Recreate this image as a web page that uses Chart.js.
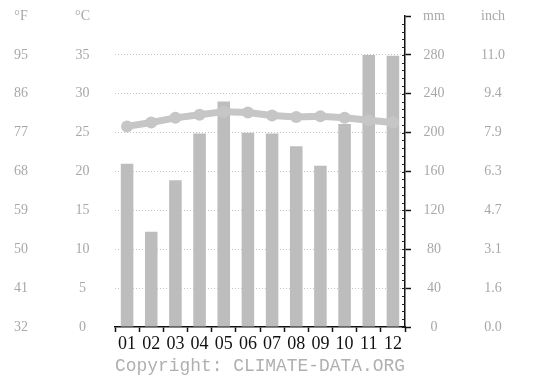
<!DOCTYPE html>
<html>
<head>
<meta charset="utf-8">
<script src="https://cdn.jsdelivr.net/npm/chart.js@4"></script>
<style>
  html, body { margin: 0; padding: 0; background: #fff; }
  #wrap { width: 533px; height: 386px; }
</style>
</head>
<body>
<div id="wrap"><canvas id="climateChart" width="533" height="386"></canvas></div>
<script>
const months = ['01', '02', '03', '04', '05', '06', '07', '08', '09', '10', '11', '12'];
const precipMm = [168, 98, 151, 199, 232, 200, 199, 186, 166, 209, 280, 279];
const tempC = [25.8, 26.3, 26.9, 27.3, 27.7, 27.6, 27.2, 27.0, 27.1, 26.9, 26.6, 26.3];

// tick labels, bottom to top (last one is the unit header)
const celsiusTicks = ['0', '5', '10', '15', '20', '25', '30', '35', '°C'];
const fahrenheitTicks = ['32', '41', '50', '59', '68', '77', '86', '95', '°F'];
const mmTicks = ['0', '40', '80', '120', '160', '200', '240', '280', 'mm'];
const inchTicks = ['0.0', '1.6', '3.1', '4.7', '6.3', '7.9', '9.4', '11.0', 'inch'];

const labelFont = { family: 'Liberation Serif', size: 14 };
const labelColor = '#a8a8a8';

function sideAxis(position, labels, max, step, width, padding, weight) {
    return {
        type: 'linear',
        position: position,
        weight: weight,
        min: 0,
        max: max,
        grid: { display: false },
        border: { display: false },
        ticks: {
            stepSize: step,
            crossAlign: 'center',
            padding: padding,
            color: labelColor,
            font: labelFont,
            callback: v => labels[Math.round(v / step)]
        },
        afterFit: scale => {
            scale.width = width;
            // label padding shouldn't push the plot area down
            scale.paddingTop = 0;
            scale.paddingBottom = 0;
        }
    };
}

// small inside ticks on the precipitation axis
const minorTicks = {
    id: 'minorTicks',
    afterDraw(chart) {
        const s = chart.scales.mm;
        const ctx = chart.ctx;
        ctx.save();
        ctx.strokeStyle = '#222';
        ctx.lineWidth = 1;
        for (let v = 0; v <= 312; v += 8) {
            const y = Math.round(s.getPixelForValue(v)) + 0.5;
            ctx.beginPath();
            ctx.moveTo(s.left - 3, y);
            ctx.lineTo(s.left, y);
            ctx.stroke();
        }
        ctx.restore();
    }
};

const cAxis = sideAxis('left', celsiusTicks, 40, 5, 65, 25, 0);
cAxis.grid = {
    display: true,
    drawTicks: false,
    color: ctx => (ctx.tick && (ctx.tick.value === 0 || ctx.tick.value === 40)) ? 'rgba(0,0,0,0)' : '#c4c4c4',
    lineWidth: 1
};
cAxis.border = { display: false, dash: [1, 2] };

const mmAxis = sideAxis('right', mmTicks, 320, 40, 55, 12, 0);
mmAxis.grid = {
    display: true,
    drawOnChartArea: false,
    drawTicks: true,
    tickLength: 6,
    tickColor: '#111',
    tickWidth: 1.5
};
mmAxis.border = { display: true, color: '#111', width: 1.5 };

new Chart(document.getElementById('climateChart').getContext('2d'), {
    data: {
        labels: months,
        datasets: [
            {
                type: 'line',
                label: 'Temperature',
                data: tempC,
                yAxisID: 'c',
                borderColor: '#c6c6c6',
                backgroundColor: '#c6c6c6',
                borderWidth: 7,
                pointRadius: 6,
                pointBorderWidth: 0,
                tension: 0,
                order: 0
            },
            {
                type: 'bar',
                label: 'Precipitation',
                data: precipMm,
                yAxisID: 'mm',
                backgroundColor: '#bdbdbd',
                borderWidth: 0,
                barPercentage: 0.52,
                categoryPercentage: 1.0,
                order: 1
            }
        ]
    },
    options: {
        responsive: false,
        animation: false,
        layout: { padding: { top: 16, right: 0, left: 0, bottom: 0 } },
        plugins: { legend: { display: false }, tooltip: { enabled: false } },
        scales: {
            x: {
                type: 'category',
                offset: true,
                grid: {
                    offset: true,
                    drawOnChartArea: false,
                    drawTicks: true,
                    tickLength: 5,
                    tickColor: '#111',
                    tickWidth: 1.5
                },
                border: { display: true, color: '#111', width: 1.5 },
                ticks: {
                    color: '#111',
                    font: { family: 'Liberation Serif', size: 18 },
                    padding: 1,
                    maxRotation: 0,
                    autoSkip: false
                },
                title: {
                    display: true,
                    text: 'Copyright: CLIMATE-DATA.ORG',
                    color: '#b0b0b0',
                    font: { family: 'Liberation Mono', size: 18 },
                    padding: { top: 0, bottom: 9 }
                },
                afterFit: scale => { scale.height = 59; }
            },
            c: cAxis,
            f: sideAxis('left', fahrenheitTicks, 40, 5, 50, 14, 1),
            mm: mmAxis,
            inch: sideAxis('right', inchTicks, 320, 40, 73, 13, 1)
        }
    },
    plugins: [minorTicks]
});
</script>
</body>
</html>
